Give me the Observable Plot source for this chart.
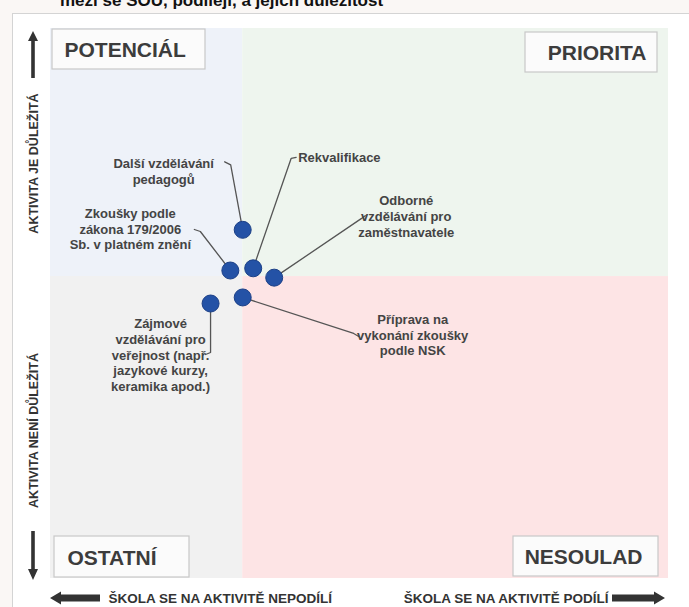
<!DOCTYPE html>
<html><head><meta charset="utf-8">
<script src="https://cdn.jsdelivr.net/npm/d3@7"></script>
<script src="https://cdn.jsdelivr.net/npm/@observablehq/plot@0.6"></script>
<style>
body{margin:0;background:#fff;font-family:"Liberation Sans",Arial,sans-serif;}
#wrap{position:relative;width:689px;height:607px;overflow:hidden;background:#faf7f5;}
#card{position:absolute;left:12px;top:13px;width:690px;height:610px;background:#fff;border:1px solid #d4d4d4;}
#title{position:absolute;left:60px;top:-9px;font-weight:bold;font-size:17px;color:#111;white-space:nowrap;}
#chart{position:absolute;left:0;top:0;}
</style></head><body>
<div id="wrap"><div id="card"></div><div id="title">mezi se ŠOU, podílejí, a jejich důležitost</div><div id="chart"></div></div>
<script>
// ---- data ----
const activities = [
  "Další vzdělávání pedagogů",
  "Zkoušky podle zákona 179/2006 Sb. v platném znění",
  "Rekvalifikace",
  "Odborné vzdělávání pro zaměstnavatele",
  "Příprava na vykonání zkoušky podle NSK",
  "Zájmové vzdělávání pro veřejnost (např. jazykové kurzy, keramika apod.)"
];
const participation = [31.1, 29.1, 32.8, 36.2, 31.1, 25.9];   // škola se podílí (0–100)
const importance    = [63.4, 56.0, 56.4, 54.7, 51.1, 50.0];   // důležitost (0–100)
const labelLines = [
  "Další vzdělávání\npedagogů",
  "Zkoušky podle\nzákona 179/2006\nSb. v platném znění",
  "Rekvalifikace",
  "Odborné\nvzdělávání pro\nzaměstnavatele",
  "Příprava na\nvykonání zkoušky\npodle NSK",
  "Zájmové\nvzdělávání pro\nveřejnost (např.\njazykové kurzy,\nkeramika apod.)"
];
const xSplit = 31.1, ySplit = 54.9;
const quadrantNames = ["POTENCIÁL", "PRIORITA", "OSTATNÍ", "NESOULAD"];
const axisTexts = ["AKTIVITA JE DŮLEŽITÁ", "AKTIVITA NENÍ DŮLEŽITÁ", "ŠKOLA SE NA AKTIVITĚ NEPODÍLÍ", "ŠKOLA SE NA AKTIVITĚ PODÍLÍ"];

// ---- layout (pixels) ----
const W = 689, H = 607, mL = 50, mR = 21, mT = 28, mB = 29;
const kx = (W - mL - mR) / 100, ky = (H - mT - mB) / 100;
const xd = px => (px - mL) / kx;       // page px -> x units (decorations only)
const yd = py => (H - mB - py) / ky;   // page px -> y units (decorations only)

// label offsets from dot (px) and leader paths (px offsets from dot)
const labelOffset = [[-79,-59],[-100,-42],[45,-110],[132,-62],[170,37],[-50,51]];
const labelAnchor = ["middle","middle","start","middle","middle","middle"];
const leaderOffsets = [
  [[0,0],[-12,-65],[-18,-68]],
  [[0,0],[-30,-39],[-36,-41]],
  [[0,0],[38,-110],[43,-111]],
  [[0,0],[87,-59],[91,-62]],
  [[0,0],[111,36],[116,39]],
  [[0,0],[0,49],[-5,51]]
];

const dots = activities.map((a, i) => ({name: a, x: participation[i], y: importance[i]}));
const labels = dots.map((d, i) => ({
  text: labelLines[i], anchor: labelAnchor[i],
  x: d.x + labelOffset[i][0] / kx, y: d.y - labelOffset[i][1] / ky
}));
const leaders = dots.flatMap((d, i) => leaderOffsets[i].map(([ox, oy]) => ({id: i, x: d.x + ox / kx, y: d.y - oy / ky})));

const quads = [
  {x1: 0, x2: xSplit, y1: ySplit, y2: 100, fill: "#eef2f9"},
  {x1: xSplit, x2: 100, y1: ySplit, y2: 100, fill: "#eef5ee"},
  {x1: 0, x2: xSplit, y1: 0, y2: ySplit, fill: "#f1f1f1"},
  {x1: xSplit, x2: 100, y1: 0, y2: ySplit, fill: "#fde4e5"}
];
const boxes = [
  {name: quadrantNames[0], x1: xd(52), x2: xd(205), y1: yd(69), y2: yd(29), tx: xd(64), anchor: "start"},
  {name: quadrantNames[1], x1: xd(525), x2: xd(657), y1: yd(72), y2: yd(32), tx: xd(646), anchor: "end"},
  {name: quadrantNames[2], x1: xd(54), x2: xd(189), y1: yd(577), y2: yd(536), tx: xd(67), anchor: "start"},
  {name: quadrantNames[3], x1: xd(513), x2: xd(658), y1: yd(576), y2: yd(536), tx: xd(642), anchor: "end"}
];

// arrows as filled polygons
const hArrowL = [[50,598,598],[61,591.5,604.5],[61,594.5,601.5],[100,594.5,601.5]].map(([x,a,b]) => ({x: xd(x), y1: yd(a), y2: yd(b)}));
const hArrowR = [[612,594.5,601.5],[654,594.5,601.5],[654,591.5,604.5],[665,598,598]].map(([x,a,b]) => ({x: xd(x), y1: yd(a), y2: yd(b)}));
const vArrowU = [[31,33,33],[41,28,38],[41,31.2,34.8],[78,31.2,34.8]].map(([y,a,b]) => ({y: yd(y), x1: xd(a), x2: xd(b)}));
const vArrowD = [[531,31.2,34.8],[569,31.2,34.8],[569,28,38],[580,33,33]].map(([y,a,b]) => ({y: yd(y), x1: xd(a), x2: xd(b)}));

const font = "Liberation Sans, Arial, sans-serif";
const chart = Plot.plot({
  width: W, height: H,
  marginLeft: mL, marginRight: mR, marginTop: mT, marginBottom: mB,
  x: {domain: [0, 100], axis: null},
  y: {domain: [0, 100], axis: null},
  style: {background: "transparent", fontFamily: font},
  marks: [
    Plot.rect(quads, {x1: "x1", x2: "x2", y1: "y1", y2: "y2", fill: "fill"}),
    Plot.rect(boxes, {x1: "x1", x2: "x2", y1: "y1", y2: "y2", fill: "#fbfbfb", stroke: "#c8c8c8", strokeWidth: 1.2}),
    Plot.text(boxes.filter(b => b.anchor === "start"), {x: "tx", y: d => (d.y1 + d.y2) / 2, text: "name", textAnchor: "start", fontSize: 21, fontWeight: "bold", fill: "#3c3c3c", dy: 1}),
    Plot.text(boxes.filter(b => b.anchor === "end"), {x: "tx", y: d => (d.y1 + d.y2) / 2, text: "name", textAnchor: "end", fontSize: 21, fontWeight: "bold", fill: "#3c3c3c", dy: 1}),
    Plot.line(leaders, {x: "x", y: "y", z: "id", stroke: "#555", strokeWidth: 1.3}),
    Plot.dot(dots, {x: "x", y: "y", r: 8.5, fill: "#2452a6", stroke: "#1b3f86", strokeWidth: 1}),
    Plot.text(labels.filter(l => l.anchor === "middle"), {x: "x", y: "y", text: "text", textAnchor: "middle", lineAnchor: "middle", lineHeight: 1.22, fontSize: 13, fontWeight: "bold", fill: "#444"}),
    Plot.text(labels.filter(l => l.anchor === "start"), {x: "x", y: "y", text: "text", textAnchor: "start", lineAnchor: "middle", fontSize: 13, fontWeight: "bold", fill: "#444"}),
    Plot.areaY(hArrowL, {x: "x", y1: "y1", y2: "y2", fill: "#333"}),
    Plot.areaY(hArrowR, {x: "x", y1: "y1", y2: "y2", fill: "#333"}),
    Plot.areaX(vArrowU, {y: "y", x1: "x1", x2: "x2", fill: "#333"}),
    Plot.areaX(vArrowD, {y: "y", x1: "x1", x2: "x2", fill: "#333"}),
    Plot.text([axisTexts[0]], {x: xd(33), y: yd(163), text: d => d, rotate: -90, fontSize: 12.5, fontWeight: "bold", fill: "#333"}),
    Plot.text([axisTexts[1]], {x: xd(33), y: yd(430), text: d => d, rotate: -90, fontSize: 12.5, fontWeight: "bold", fill: "#333"}),
    Plot.text([axisTexts[2]], {x: xd(108), y: yd(598), text: d => d, textAnchor: "start", fontSize: 13.5, fontWeight: "bold", fill: "#333"}),
    Plot.text([axisTexts[3]], {x: xd(608), y: yd(598), text: d => d, textAnchor: "end", fontSize: 13.5, fontWeight: "bold", fill: "#333"})
  ]
});
document.getElementById("chart").appendChild(chart);
</script>
</body></html>
